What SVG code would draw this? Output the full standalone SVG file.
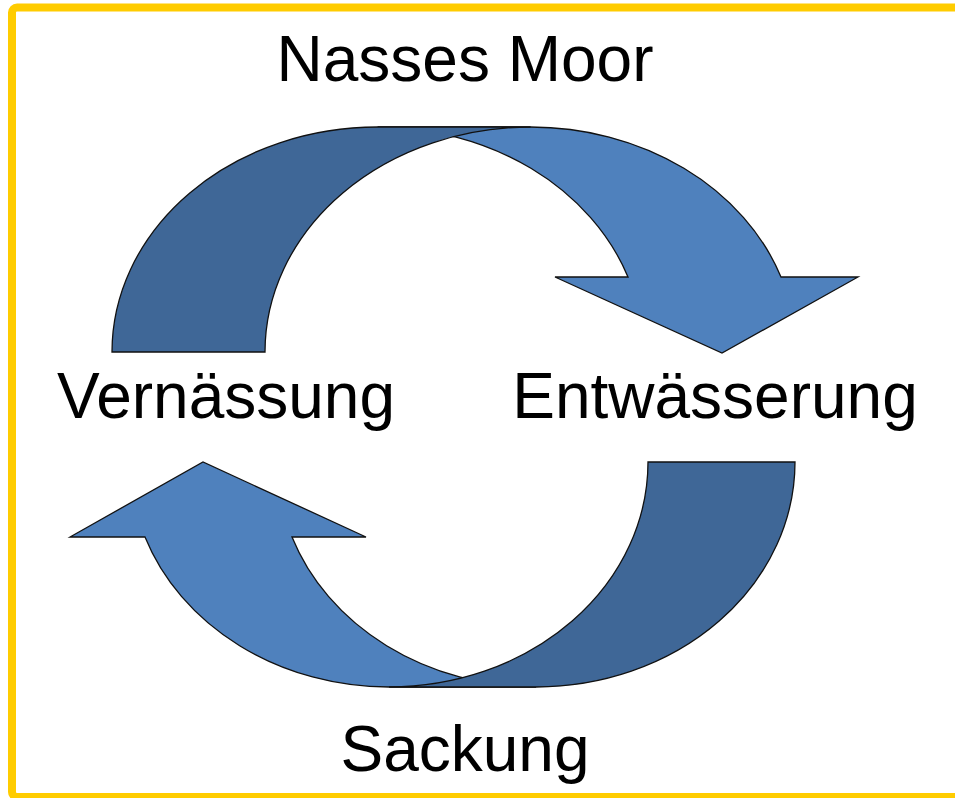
<svg xmlns="http://www.w3.org/2000/svg" width="955" height="798" viewBox="0 0 955 798">
<style>
.lbl{font-family:"Liberation Sans",Arial,sans-serif;font-size:64px;fill:#000;text-anchor:middle}
.light{fill:#4F81BD;stroke:#111;stroke-width:1.3;stroke-linejoin:miter}
.dark{fill:#3F6797;stroke:#111;stroke-width:1.3;stroke-linejoin:miter}
</style>
<rect x="0" y="0" width="955" height="798" fill="#fff"/>
<rect x="12" y="7.5" width="990" height="789.5" rx="5" fill="#fff" stroke="#FFCC00" stroke-width="8"/>
<g id="connectors">
<g id="arrow-top">
<path class="light" d="M530.6 127 A265.6 225 0 0 1 781 277 L858 277 L722 353 L555 277 L628 277 A265.6 225 0 0 0 377.6 127 Z"/>
<path class="dark" d="M112 352 A265.6 225 0 0 1 377.6 127 L530.6 127 A265.6 225 0 0 0 265 352 Z"/>
</g>
<g id="arrow-bottom">
<path class="light" d="M389.1 687 A258.9 225 0 0 1 145 537 L70 537 L203 462 L366 537 L292 537 A258.9 225 0 0 0 536.1 687 Z"/>
<path class="dark" d="M795 462 A258.9 225 0 0 1 536.1 687 L389.1 687 A258.9 225 0 0 0 648 462 Z"/>
</g>
</g>
<g id="node-nasses-moor"><text class="lbl" x="465" y="81">Nasses Moor</text></g>
<g id="node-vernaessung"><text class="lbl" x="226" y="418">Vernässung</text></g>
<g id="node-entwaesserung"><text class="lbl" x="715" y="418">Entwässerung</text></g>
<g id="node-sackung"><text class="lbl" x="465" y="771">Sackung</text></g>
</svg>
